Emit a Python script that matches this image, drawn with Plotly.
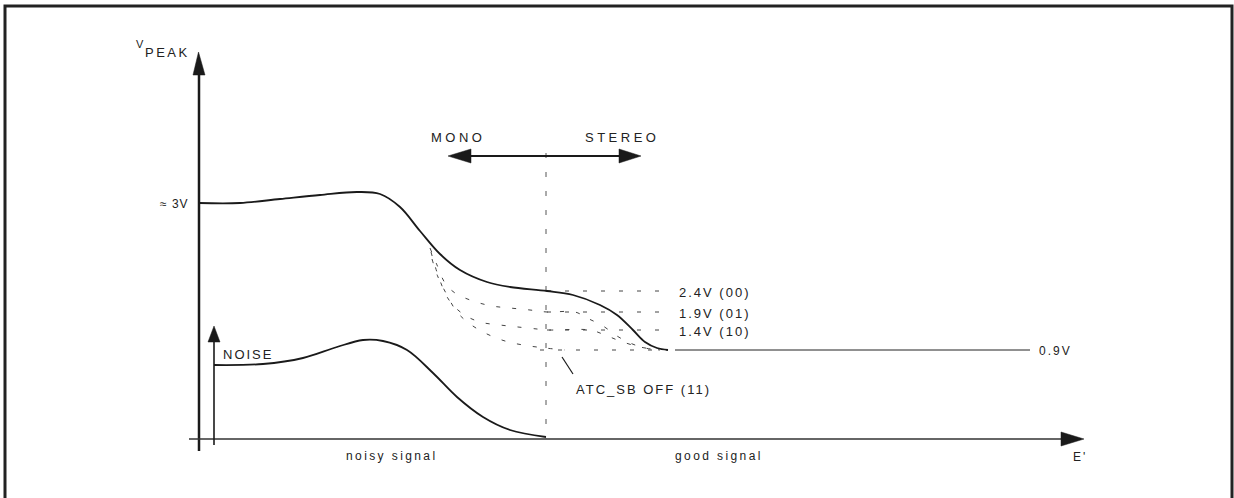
import plotly.graph_objects as go

# ---------------- data (diagram units: canvas pixels, y grows downward) ----------------
# Main V_PEAK curve (2.4V (00) setting)
main_x = [199, 240, 280, 320, 357, 380, 400, 420, 440, 460, 487, 510, 547, 573, 600, 617, 633, 645, 657, 668]
main_y = [203, 203, 199, 195, 192, 194, 207, 231, 254, 270, 282, 287, 291, 295, 305, 315, 330, 342, 348, 350]

# Noise curve
noise_x = [214, 263, 303, 337, 363, 383, 407, 433, 457, 483, 510, 546]
noise_y = [365, 364, 358, 347, 340, 341, 350, 373, 397, 417, 430, 437]

# Dashed curves for the other ATC_SB settings
c19_x = [430, 437, 445, 455, 473, 492, 510, 530, 547, 575, 587, 603, 617, 630, 645, 660]
c19_y = [248, 265, 283, 293, 301, 306, 308, 310, 312, 312, 318, 326, 336, 343, 348, 350]
c14_x = [431, 439, 449, 463, 480, 500, 518, 537, 547, 590, 605, 620, 640, 660]
c14_y = [252, 278, 300, 314, 322, 325, 327, 329, 330, 330, 335, 341, 347, 350]
c09_x = [432, 438, 447, 457, 470, 487, 505, 523, 545, 565]
c09_y = [259, 277, 295, 312, 324, 334, 341, 345, 348, 350]

# Threshold levels
level_labels = ["2.4V (00)", "1.9V (01)", "1.4V (10)"]
level_y = [291, 312, 330]
level_x0 = 547
level_x1 = 665
floor_y = 350
floor_label = "0.9V"

# Axes / arrows
yaxis_x = 199
xaxis_y = 439
noise_axis_x = 214
split_x = 546
mono_y = 156

axis_font = "Liberation Sans, Arial, sans-serif"
ink = "#1a1a1a"

fig = go.Figure()

def line(x, y, width=1.5, color=ink, dash=None, shape="linear"):
    fig.add_trace(go.Scatter(x=x, y=y, mode="lines", hoverinfo="skip",
                             line=dict(color=color, width=width, dash=dash, shape=shape, smoothing=1.0)))

def tri(x, y):
    fig.add_trace(go.Scatter(x=x, y=y, mode="lines", fill="toself", fillcolor=ink,
                             line=dict(color=ink, width=0.5), hoverinfo="skip"))

# frame (open at bottom)
line([5, 5, 1232, 1232], [498, 6, 6, 498], width=3, color="#222")

# y axis with arrow
line([yaxis_x, yaxis_x], [451, 74], width=2.5)
tri([193, 198.5, 205, 193], [75, 52, 75, 75])

# x axis with arrow
line([189, 1062], [xaxis_y, xaxis_y], width=1.6, color="#333")
tri([1061, 1084, 1061, 1061], [432, 439, 446, 432])

# noise axis arrow
line([noise_axis_x, noise_axis_x], [445, 340], width=1.6)
tri([208, 214, 220, 208], [342, 326, 342, 342])

# vertical dotted split line
line([split_x, split_x], [153, xaxis_y], width=1, color="#555", dash="5px,14px")

# mono/stereo double arrow
line([470, 620], [mono_y, mono_y], width=2)
tri([471, 448, 471, 471], [149, 156, 163, 149])
tri([619, 641, 619, 619], [149, 156, 163, 149])

# level dashed lines
for ly in level_y:
    line([level_x0, level_x1], [ly, ly], width=1, color="#444", dash="4px,14px")
line([540, 668], [floor_y, floor_y], width=1, color="#444", dash="4px,14px")

# dashed curves
for cx, cy in [(c19_x, c19_y), (c14_x, c14_y), (c09_x, c09_y)]:
    line(cx, cy, width=1, color="#444", dash="4px,12px", shape="spline")

# main curves
line(main_x, main_y, width=1.8, shape="spline")
line(noise_x, noise_y, width=1.8, shape="spline")

# 0.9V solid level
line([675, 1030], [floor_y, floor_y], width=1, color="#222")

# ATC_SB leader line
line([562, 573], [357, 374], width=1.2)

def txt(x, y, s, anchor="left", size=12, ls=2):
    fig.add_annotation(x=x, y=y, text=f'<span style="letter-spacing:{ls}px">{s}</span>',
                       showarrow=False, xanchor=anchor, yanchor="middle",
                       font=dict(family=axis_font, size=size, color="#222"))

txt(134, 44, "V", size=11, ls=0)
txt(143, 52, "PEAK", size=13, ls=2.5)
txt(191, 204, "≈ 3V", anchor="right", size=12, ls=1)
txt(458, 137, "MONO", anchor="center", size=13, ls=3.5)
txt(622, 137, "STEREO", anchor="center", size=13, ls=3.5)
for lab, ly in zip(level_labels, level_y):
    txt(677, ly + 1, lab, size=13, ls=2)
txt(1037, floor_y + 1, floor_label, size=12, ls=2)
txt(574, 389, "ATC_SB OFF (11)", size=13, ls=2)
txt(221, 354, "NOISE", size=13, ls=2)
txt(392, 456, "noisy signal", anchor="center", size=12, ls=2.4)
txt(719, 456, "good signal", anchor="center", size=12, ls=2.4)
txt(1071, 457, "E'", size=12, ls=2)

fig.update_layout(
    width=1234, height=498,
    margin=dict(l=0, r=0, t=0, b=0),
    paper_bgcolor="white", plot_bgcolor="white",
    showlegend=False,
    xaxis=dict(range=[0, 1234], visible=False, fixedrange=True),
    yaxis=dict(range=[498, 0], visible=False, fixedrange=True),
    font=dict(family=axis_font),
)

fig.write_html("out.html", config={"displayModeBar": False},
               post_script="document.body.style.margin='0';document.body.style.overflow='hidden';")
